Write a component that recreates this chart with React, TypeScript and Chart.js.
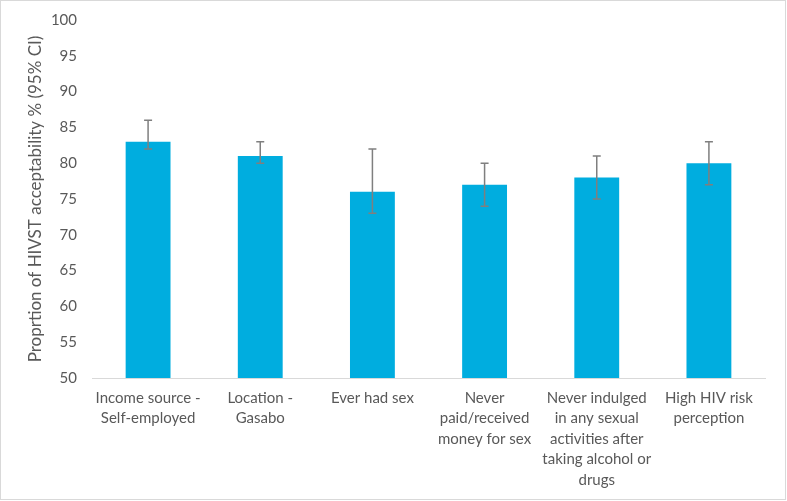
import { useEffect, useRef } from 'react';
import Chart from 'chart.js/auto';

const categories: string[][] = [
  ['Income source -', 'Self-employed'],
  ['Location -', 'Gasabo'],
  ['Ever had sex'],
  ['Never', 'paid/received', 'money for sex'],
  ['Never indulged', 'in any sexual', 'activities after', 'taking alcohol or', 'drugs'],
  ['High HIV risk', 'perception'],
];
const values = [83, 81, 76, 77, 78, 80];
const lowerCI = [82, 80, 73, 74, 75, 77];
const upperCI = [86, 83, 82, 80, 81, 83];

const FONT = 'Lato, "Open Sans", sans-serif';
const TEXT = '#595959';

// draws the 95% CI whiskers on top of the bars
const errorBars = {
  id: 'errorBars',
  afterDatasetsDraw(chart: Chart) {
    const meta = chart.getDatasetMeta(0);
    const y = chart.scales.y;
    const ctx = chart.ctx;
    ctx.save();
    ctx.strokeStyle = '#7f7f7f';
    ctx.lineWidth = 1.5;
    meta.data.forEach((bar: any, i: number) => {
      const x = bar.x;
      const top = y.getPixelForValue(upperCI[i]);
      const bottom = y.getPixelForValue(lowerCI[i]);
      ctx.beginPath();
      ctx.moveTo(x, top);
      ctx.lineTo(x, bottom);
      ctx.moveTo(x - 4, top);
      ctx.lineTo(x + 4, top);
      ctx.moveTo(x - 4, bottom);
      ctx.lineTo(x + 4, bottom);
      ctx.stroke();
    });
    ctx.restore();
  },
};

const App = () => {
  const chartRef = useRef<HTMLCanvasElement | null>(null);
  const chartInstance = useRef<Chart | null>(null);

  useEffect(() => {
    if (!chartRef.current) return;
    if (chartInstance.current) chartInstance.current.destroy();

    chartInstance.current = new Chart(chartRef.current, {
      type: 'bar',
      data: {
        labels: categories,
        datasets: [
          {
            data: values,
            backgroundColor: '#00ADDF',
            categoryPercentage: 1,
            barPercentage: 0.4,
          },
        ],
      },
      options: {
        responsive: false,
        animation: false,
        layout: { padding: { top: 19, right: 20, left: 0, bottom: 0 } },
        plugins: {
          legend: { display: false },
          tooltip: { enabled: false },
        },
        scales: {
          x: {
            grid: { display: false, drawTicks: false },
            border: { display: true, color: '#d9d9d9', width: 1 },
            ticks: {
              color: TEXT,
              font: { family: FONT, size: 15, lineHeight: 1.36 },
              padding: 10,
              maxRotation: 0,
              autoSkip: false,
            },
            afterFit: (scale: any) => {
              scale.height = 121;
              scale.paddingLeft = 0;
              scale.paddingRight = 0;
            },
          },
          y: {
            min: 50,
            max: 100,
            grid: { display: false, drawTicks: false },
            border: { display: false },
            ticks: {
              stepSize: 5,
              color: TEXT,
              font: { family: FONT, size: 15 },
              padding: 15,
            },
            title: {
              display: true,
              text: 'Proprtion of HIVST acceptability % (95% CI)',
              color: TEXT,
              font: { family: FONT, size: 17, weight: 'normal' },
              padding: { top: 24, bottom: 0 },
            },
            afterFit: (scale: any) => {
              scale.width = 91;
              scale.paddingTop = 0;
              scale.paddingBottom = 0;
            },
          },
        },
      },
      plugins: [errorBars],
    });
    return () => {
      chartInstance.current?.destroy();
    };
  }, []);

  return (
    <div
      style={{
        position: 'absolute',
        left: 0,
        top: 0,
        width: 786,
        height: 500,
        border: '1px solid #d9d9d9',
        boxSizing: 'border-box',
        background: '#fff',
      }}
    >
      <canvas ref={chartRef} width={784} height={498} style={{ display: 'block' }} />
    </div>
  );
};

export default App;
